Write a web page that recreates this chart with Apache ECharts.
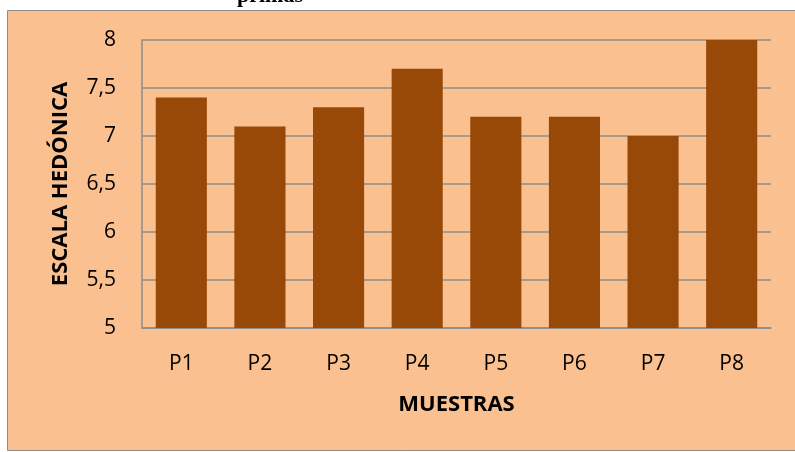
<!DOCTYPE html>
<html>
<head>
<meta charset="utf-8">
<script src="https://cdn.jsdelivr.net/npm/echarts@6/dist/echarts.min.js"></script>
<style>
  html, body { margin: 0; padding: 0; background: #fff; }
  #chart { width: 795px; height: 452px; }
</style>
</head>
<body>
<div id="chart"></div>
<script>
// muestras y puntaje medio en la escala hedónica
const categories = ['P1', 'P2', 'P3', 'P4', 'P5', 'P6', 'P7', 'P8']
const scores = [7.4, 7.1, 7.3, 7.7, 7.2, 7.2, 7.0, 8.0]
const yTicks = [5, 5.5, 6, 6.5, 7, 7.5, 8]

const chart = echarts.init(document.getElementById('chart'))
const font = '"Open Sans", "Noto Sans", sans-serif'

const option = {
  backgroundColor: '#fff',
  animation: false,
  graphic: [
    {
      type: 'rect',
      z: -10,
      shape: { x: 7.5, y: 10.5, width: 800, height: 440 },
      style: { fill: '#FAC090', stroke: '#8c8c8c', lineWidth: 1 },
    },
    {
      type: 'text',
      left: 237,
      top: -15,
      style: {
        text: 'primas',
        font: 'bold 22px "Liberation Serif", serif',
        fill: '#000',
      },
    },
  ],
  grid: {
    left: 142,
    top: 40,
    right: 24,
    bottom: 124,
  },
  xAxis: {
    type: 'category',
    data: categories,
    name: 'MUESTRAS',
    nameLocation: 'middle',
    nameGap: 66,
    nameTextStyle: { fontFamily: font, fontWeight: 'bold', fontSize: 22, color: '#000' },
    axisLine: { lineStyle: { color: '#8c8c8c', width: 1.5 } },
    axisTick: { show: false },
    axisLabel: { fontFamily: font, fontSize: 21, color: '#000', margin: 26 },
  },
  yAxis: {
    type: 'value',
    min: 5,
    max: 8,
    interval: 0.5,
    name: 'ESCALA HEDÓNICA',
    nameLocation: 'middle',
    nameGap: 70,
    nameTextStyle: { fontFamily: font, fontWeight: 'bold', fontSize: 22, color: '#000' },
    axisLine: { show: true, lineStyle: { color: '#8c8c8c', width: 1.5 } },
    axisTick: { show: false },
    splitLine: { lineStyle: { color: '#8c8c8c', width: 1.5 } },
    axisLabel: {
      fontFamily: font,
      fontSize: 21,
      color: '#000',
      margin: 26,
      formatter: v => (yTicks.includes(v) ? String(v).replace('.', ',') : ''),
    },
  },
  series: [
    {
      type: 'bar',
      data: scores,
      barWidth: '65%',
      itemStyle: { color: '#984807' },
    },
  ],
}

chart.setOption(option)
</script>
</body>
</html>
